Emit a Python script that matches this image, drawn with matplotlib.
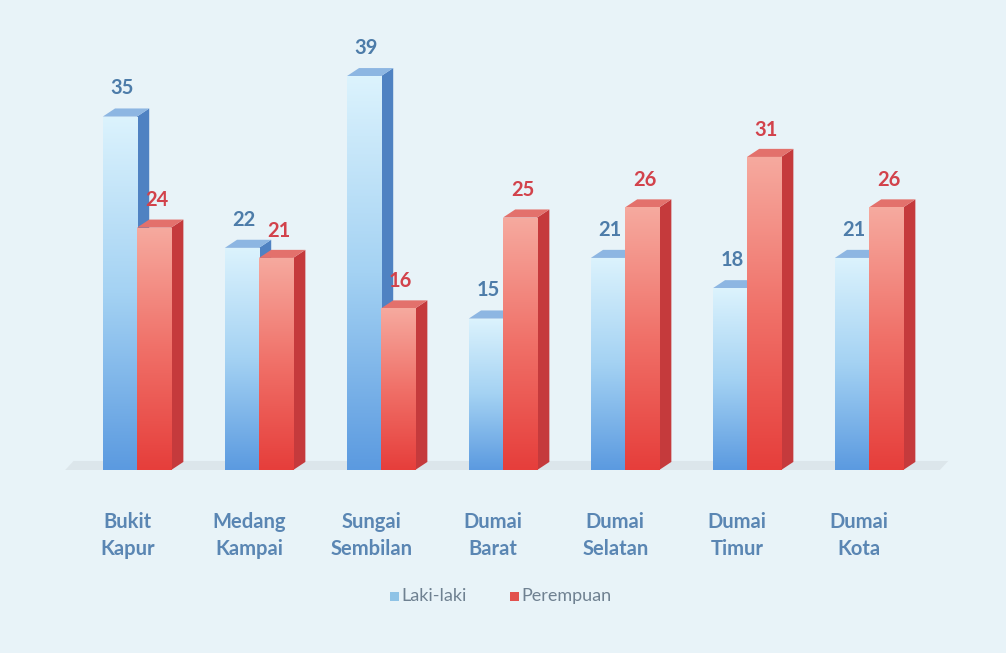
import numpy as np
import matplotlib.pyplot as plt
from matplotlib.patches import Polygon, Rectangle
from matplotlib.colors import LinearSegmentedColormap
import matplotlib.transforms as mtransforms

plt.rcParams['font.family'] = ['Lato', 'DejaVu Sans']

kecamatan = ['Bukit\nKapur', 'Medang\nKampai', 'Sungai\nSembilan', 'Dumai\nBarat',
             'Dumai\nSelatan', 'Dumai\nTimur', 'Dumai\nKota']
laki = [35, 22, 39, 15, 21, 18, 21]
perempuan = [24, 21, 16, 25, 26, 31, 26]

bg = '#e8f3f8'
fig = plt.figure(figsize=(10.06, 6.53), dpi=100, facecolor=bg)
ax = fig.add_axes([0.0513, 0.2802, 0.8974, 0.696])
ax.set_xlim(-0.7, 6.7)
ax.set_ylim(0, 45)
ax.axis('off')

w = 0.28     # lebar batang
dx = 0.10    # kedalaman 3D (sumbu x)
dy = 0.8     # kedalaman 3D (sumbu y)

cm_blue = LinearSegmentedColormap.from_list('b', ['#5b9ae0', '#a4d2f3', '#dcf3fd'])
cm_red = LinearSegmentedColormap.from_list('r', ['#e63e3b', '#f07068', '#f6aa9f'])
grad = np.linspace(0, 1, 256).reshape(-1, 1)

# lantai
floor = Polygon([(-0.62, -0.4), (6.55, -0.4), (6.65, 0.9), (-0.52, 0.9)],
                closed=True, fc='#dae3e8', ec='none', alpha=0.8, zorder=1)
ax.add_patch(floor)


def bar3d(x0, h, cmap, side, top):
    # sisi kanan
    ax.add_patch(Polygon([(x0 + w, 0), (x0 + w + dx, dy), (x0 + w + dx, h + dy), (x0 + w, h)],
                         closed=True, fc=side, ec='none', zorder=2))
    # atas
    ax.add_patch(Polygon([(x0, h), (x0 + w, h), (x0 + w + dx, h + dy), (x0 + dx, h + dy)],
                         closed=True, fc=top, ec='none', zorder=2))
    # depan dengan gradasi
    rect = Rectangle((x0, 0), w, h, fc='none', ec='none', zorder=2)
    ax.add_patch(rect)
    im = ax.imshow(grad, cmap=cmap, aspect='auto', origin='lower',
                   extent=[x0, x0 + w, 0, h], zorder=2)
    im.set_clip_path(rect)


for i in range(len(kecamatan)):
    xb = i - w
    xr = i
    bar3d(xb, laki[i], cm_blue, '#4f82c2', '#8db6e2')
    bar3d(xr, perempuan[i], cm_red, '#c53a3c', '#e3716c')
    ax.text(xb + w / 2 + 0.02, laki[i] + 2.8, str(laki[i]), ha='center', va='center',
            fontsize=14.5, fontweight='bold', color='#4d7ca9', zorder=5)
    ax.text(xr + w / 2 + 0.02, perempuan[i] + 2.7, str(perempuan[i]), ha='center', va='center',
            fontsize=14.5, fontweight='bold', color='#d2424b', zorder=5)

ax.set_xlim(-0.7, 6.7)
ax.set_ylim(0, 45)

trans = mtransforms.blended_transform_factory(ax.transData, fig.transFigure)
for i, lab in enumerate(kecamatan):
    ax.text(i - 0.08, 0.180, lab, transform=trans, ha='center', va='center',
            fontsize=14.5, fontweight='bold', color='#5a86b3', linespacing=1.4)

# legenda
ly = 0.088
fig.patches.append(Rectangle((0.388, ly - 0.008), 0.009, 0.013, transform=fig.transFigure,
                             fc='#8fc3e6', ec='none', figure=fig))
fig.text(0.399, ly, 'Laki-laki', ha='left', va='center', fontsize=13, color='#6f8191')
fig.patches.append(Rectangle((0.507, ly - 0.008), 0.009, 0.013, transform=fig.transFigure,
                             fc='#e2514e', ec='none', figure=fig))
fig.text(0.518, ly, 'Perempuan', ha='left', va='center', fontsize=13, color='#6f8191')

plt.savefig('out.png', dpi=100, facecolor=bg)
